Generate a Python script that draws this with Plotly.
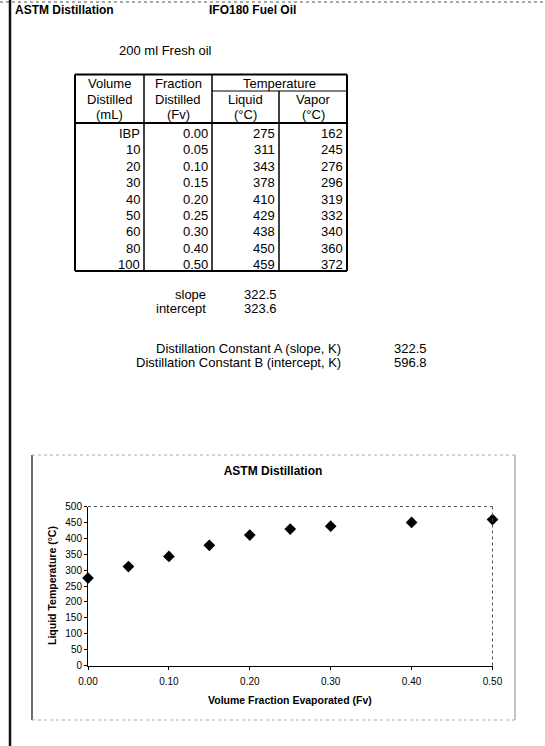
import plotly.graph_objects as go

# Page size in pixels
W, H = 545, 746

# ASTM distillation data, IFO180 fuel oil (200 ml fresh oil)
volume_labels = ["IBP", "10", "20", "30", "40", "50", "60", "80", "100"]
fraction_fv = [0.00, 0.05, 0.10, 0.15, 0.20, 0.25, 0.30, 0.40, 0.50]
liquid_temp_c = [275, 311, 343, 378, 410, 429, 438, 450, 459]
vapor_temp_c = [162, 245, 276, 296, 319, 332, 340, 360, 372]

# Regression results and distillation constants
slope = 322.5
intercept = 323.6
const_a_slope_k = 322.5
const_b_intercept_k = 596.8

FONT = "Liberation Sans, Arial, Helvetica, sans-serif"


def px(x):
    return x / W


def py(y):
    return 1 - y / H


annotations = []
shapes = []


def text(x, y, s, anchor="left", size=13, bold=False, angle=0):
    annotations.append(dict(
        x=px(x), y=py(y), xref="paper", yref="paper",
        text=f"<b>{s}</b>" if bold else s,
        showarrow=False, xanchor=anchor, yanchor="middle", textangle=angle,
        font=dict(family=FONT, size=size, color="black"),
    ))


def line(x0, y0, x1, y1, width=1, color="black", dash="solid"):
    shapes.append(dict(
        type="line", xref="paper", yref="paper",
        x0=px(x0), y0=py(y0), x1=px(x1), y1=py(y1),
        line=dict(width=width, color=color, dash=dash),
    ))


# Page rules
line(10, 0, 10, H, width=2.5, color="#111")
line(0, 2, W, 2, width=1, color="#555", dash="dot")

# Sheet headings
text(13, 10, "ASTM Distillation", size=12, bold=True)
text(207, 10, "IFO180 Fuel Oil", size=12, bold=True)
text(117, 50, "200 ml Fresh oil", size=13)

# ---- distillation table ----
col_x = [75, 144, 212, 279, 347]
top, head_bot, bottom = 74.5, 123, 271
row_y0, row_step = 133.5, 16.4

# outer border and header separator
line(col_x[0], top, col_x[-1], top, width=2)
line(col_x[0], bottom, col_x[-1], bottom, width=2)
line(col_x[0], head_bot, col_x[-1], head_bot, width=2)
line(col_x[0], top, col_x[0], bottom, width=2)
line(col_x[-1], top, col_x[-1], bottom, width=2)
# column separators (Liquid/Vapor split starts below "Temperature")
line(col_x[1], top, col_x[1], bottom, width=1.5)
line(col_x[2], top, col_x[2], bottom, width=1.5)
line(col_x[3], 91, col_x[3], bottom, width=1.5)
line(col_x[2], 91, col_x[4], 91, width=1)

# headers
hdr_y = [84, 100, 114]
for i, s in enumerate(["Volume", "Distilled", "(mL)"]):
    text((col_x[0] + col_x[1]) / 2, hdr_y[i], s, anchor="center")
for i, s in enumerate(["Fraction", "Distilled", "(Fv)"]):
    text((col_x[1] + col_x[2]) / 2, hdr_y[i], s, anchor="center")
text((col_x[2] + col_x[4]) / 2, hdr_y[0], "Temperature", anchor="center")
text((col_x[2] + col_x[3]) / 2, hdr_y[1], "Liquid", anchor="center")
text((col_x[2] + col_x[3]) / 2, hdr_y[2], "(°C)", anchor="center")
text((col_x[3] + col_x[4]) / 2, hdr_y[1], "Vapor", anchor="center")
text((col_x[3] + col_x[4]) / 2, hdr_y[2], "(°C)", anchor="center")

# body rows
for i, (v, f, tl, tv) in enumerate(zip(volume_labels, fraction_fv,
                                        liquid_temp_c, vapor_temp_c)):
    y = row_y0 + i * row_step
    text(col_x[1] - 2.5, y, v, anchor="right")
    text(col_x[2] - 2.5, y, f"{f:.2f}", anchor="right")
    text(col_x[3] - 2.5, y, f"{tl:d}", anchor="right")
    text(col_x[4] - 2.5, y, f"{tv:d}", anchor="right")

# regression summary
text(208, 295, "slope", anchor="right")
text(242, 295, f"{slope:.1f}")
text(208, 308.5, "intercept", anchor="right")
text(242, 308.5, f"{intercept:.1f}")
text(343, 348, "Distillation Constant A (slope, K)", anchor="right")
text(392, 348, f"{const_a_slope_k:.1f}")
text(343, 362, "Distillation Constant B (intercept, K)", anchor="right")
text(392, 362, f"{const_b_intercept_k:.1f}")

# ---- chart frame ----
line(32, 455, 32, 720, width=1.3, color="#222")
line(515, 455, 515, 720, width=1, color="#888")
line(32, 455, 515, 455, width=1, color="#aaa", dash="dot")
line(32, 720, 515, 720, width=1, color="#aaa", dash="dot")

# plot area top/right border (dotted)
shapes.append(dict(type="line", xref="x domain", yref="y domain",
                   x0=0, y0=1, x1=1, y1=1,
                   line=dict(width=1, color="#555", dash="dot")))
shapes.append(dict(type="line", xref="x domain", yref="y domain",
                   x0=1, y0=0, x1=1, y1=1,
                   line=dict(width=1, color="#555", dash="dot")))

# axis titles
text(290, 700, "Volume Fraction Evaporated (Fv)", anchor="center",
     size=10.5, bold=True)
text(52, 586, "Liquid Temperature (°C)", anchor="center",
     size=10.5, bold=True, angle=-90)

fig = go.Figure()
fig.add_trace(go.Scatter(
    x=fraction_fv, y=liquid_temp_c, mode="markers",
    marker=dict(symbol="diamond", size=9, color="black"),
    cliponaxis=False, showlegend=False,
))

fig.update_layout(
    width=W, height=H,
    margin=dict(l=0, r=0, t=0, b=0),
    paper_bgcolor="white", plot_bgcolor="white",
    font=dict(family=FONT, color="black"),
    title=dict(text="<b>ASTM Distillation</b>", x=px(273), y=py(471),
               xref="paper", yref="paper", xanchor="center", yanchor="middle",
               font=dict(family=FONT, size=12, color="black")),
    xaxis=dict(
        domain=[px(88), px(492.5)], range=[0, 0.5],
        tickvals=[0.0, 0.1, 0.2, 0.3, 0.4, 0.5], tickformat=".2f",
        showgrid=False, zeroline=False, showline=True,
        linecolor="black", linewidth=1,
        ticks="outside", ticklen=3, tickcolor="black",
        tickfont=dict(size=10), ticklabelstandoff=3, automargin=False,
    ),
    yaxis=dict(
        domain=[py(665.5), py(506.5)], range=[0, 500], dtick=50,
        showgrid=False, zeroline=False, showline=True,
        linecolor="black", linewidth=1,
        ticks="outside", ticklen=3, tickcolor="black",
        tickfont=dict(size=10), automargin=False,
    ),
    annotations=annotations,
    shapes=shapes,
)

fig.write_html("out.html")
